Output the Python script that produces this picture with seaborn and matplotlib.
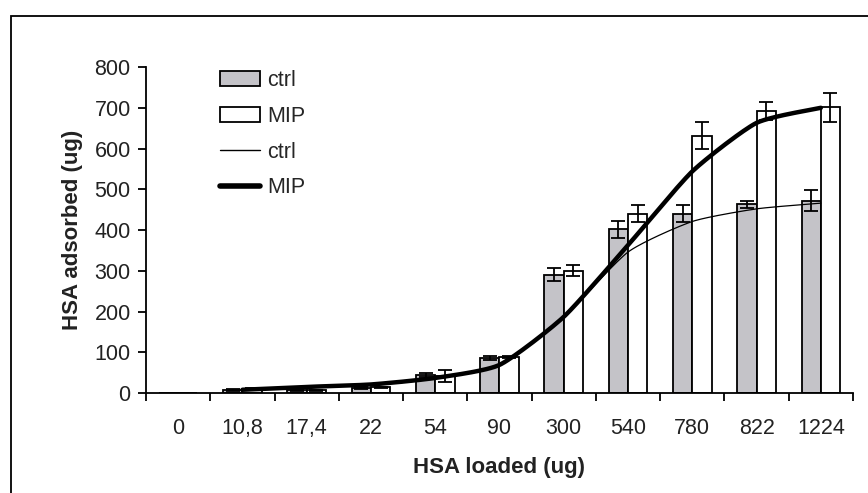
import numpy as np
import pandas as pd
import matplotlib
matplotlib.use("Agg")
import matplotlib.pyplot as plt
import seaborn as sns
from matplotlib.patches import Patch, Rectangle
from matplotlib.lines import Line2D

# ---------------- data ----------------
categories = ["0", "10,8", "17,4", "22", "54", "90", "300", "540", "780", "822", "1224"]
ctrl_bar = [0, 8, 7, 13, 44, 86, 290, 402, 440, 463, 472]
mip_bar = [0, 10, 7, 14, 42, 89, 300, 440, 631, 693, 701]
ctrl_err = [0, 2, 1, 2, 5, 4, 16, 21, 21, 9, 26]
mip_err = [0, 3, 1, 2, 14, 3, 13, 21, 33, 22, 35]
line_categories = categories[1:]
ctrl_line = [7, 14, 19, 35, 68, 187, 346, 421, 452, 466]
mip_line = [8, 15, 21, 37, 69, 187, 363, 544, 663, 700]
y_ticks = [0, 100, 200, 300, 400, 500, 600, 700, 800]

GRAY = "#c4c3c8"
TXT = "#222222"

sns.set_style("white")
plt.rcParams["font.family"] = ["Liberation Sans", "DejaVu Sans"]

fig = plt.figure(figsize=(8.68, 4.93), dpi=100)
ax = fig.add_axes([0.1682, 0.2028, 0.8145, 0.6612])

df = pd.DataFrame({
    "load": categories * 2,
    "group": ["ctrl"] * len(categories) + ["MIP"] * len(categories),
    "value": ctrl_bar + mip_bar,
})
sns.barplot(data=df, x="load", y="value", hue="group", order=categories,
            hue_order=["ctrl", "MIP"], palette={"ctrl": GRAY, "MIP": "white"},
            saturation=1, width=0.6, edgecolor="black", linewidth=1.3,
            legend=False, ax=ax, zorder=2)

# error bars on the bars
for cont, vals, errs in zip(ax.containers, [ctrl_bar, mip_bar], [ctrl_err, mip_err]):
    xs = [b.get_x() + b.get_width() / 2 for b in cont]
    xs_f = [x for x, e in zip(xs, errs) if e > 0]
    v_f = [v for v, e in zip(vals, errs) if e > 0]
    e_f = [e for e in errs if e > 0]
    ax.errorbar(xs_f, v_f, yerr=e_f, fmt="none", ecolor="black",
                elinewidth=1.3, capsize=5, capthick=1.3, zorder=3)


# lightly smoothed lines (Bezier through the points, like a spreadsheet "smoothed line")
def smooth(xs, ys, n=30, k=0.1):
    xs = np.asarray(xs, float)
    ys = np.asarray(ys, float)
    px = np.concatenate([[xs[0]], xs, [xs[-1]]])
    py = np.concatenate([[ys[0]], ys, [ys[-1]]])
    outx, outy = [], []
    t = np.linspace(0, 1, n)
    for i in range(1, len(px) - 2):
        p0 = np.array([px[i - 1], py[i - 1]])
        p1 = np.array([px[i], py[i]])
        p2 = np.array([px[i + 1], py[i + 1]])
        p3 = np.array([px[i + 2], py[i + 2]])
        c1 = p1 + (p2 - p0) * k
        c2 = p2 - (p3 - p1) * k
        b = ((1 - t) ** 3)[:, None] * p1 + (3 * (1 - t) ** 2 * t)[:, None] * c1 \
            + (3 * (1 - t) * t ** 2)[:, None] * c2 + (t ** 3)[:, None] * p2
        outx.extend(b[:, 0])
        outy.extend(b[:, 1])
    return outx, outy


line_x = [categories.index(c) for c in line_categories]
sx, sy = smooth(line_x, ctrl_line)
ax.plot(sx, sy, color="black", lw=0.9, zorder=4)
sx, sy = smooth(line_x, mip_line)
ax.plot(sx, sy, color="black", lw=3.2, solid_capstyle="round", zorder=5)

# axes styling
ax.set_xlim(-0.5, len(categories) - 0.5)
ax.set_ylim(0, 800)
ax.set_yticks(y_ticks)
ax.set_xticks(range(len(categories)))
ax.set_xticklabels(categories)
ax.set_xticks(np.arange(-0.5, len(categories), 1.0), minor=True)
ax.tick_params(axis="x", which="major", length=0, pad=18, labelsize=15.5, colors=TXT)
ax.tick_params(axis="x", which="minor", length=6, width=1.3, color="black", direction="out")
ax.tick_params(axis="y", length=6, width=1.3, color="black", direction="out",
               pad=5, labelsize=15.5, labelcolor=TXT, left=True)
ax.xaxis.set_tick_params(bottom=True, which="both")
for s in ["top", "right"]:
    ax.spines[s].set_visible(False)
for s in ["left", "bottom"]:
    ax.spines[s].set_color("black")
    ax.spines[s].set_linewidth(1.3)
ax.set_xlabel("HSA loaded (ug)", fontsize=16, fontweight="bold", labelpad=13, color=TXT)
ax.set_ylabel("HSA adsorbed (ug)", fontsize=16, fontweight="bold", labelpad=8, color=TXT)
ax.grid(False)

handles = [
    Patch(facecolor=GRAY, edgecolor="black", linewidth=1.3, label="ctrl"),
    Patch(facecolor="white", edgecolor="black", linewidth=1.3, label="MIP"),
    Line2D([], [], color="black", lw=1.0, label="ctrl"),
    Line2D([], [], color="black", lw=4, label="MIP"),
]
ax.legend(handles=handles, loc="upper left", bbox_to_anchor=(0.104, 0.99),
          frameon=False, fontsize=15.5, handlelength=1.9, handleheight=0.68,
          handletextpad=0.3, labelspacing=0.68, borderpad=0, borderaxespad=0)

# frame around the figure (cut at right and bottom like the reference)
fig.patches.append(Rectangle((11 / 868, -0.2), 1.2, 0.2 + (1 - 16 / 493),
                             transform=fig.transFigure, fill=False,
                             edgecolor="black", linewidth=1.3, zorder=0))

fig.savefig("out.png", dpi=100)
